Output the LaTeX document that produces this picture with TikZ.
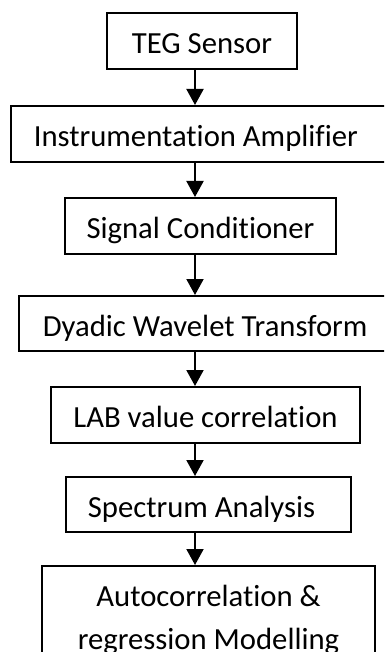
\documentclass[tikz,border=0pt]{standalone}
\usepackage{fontspec}
\setmainfont{Carlito}[Ligatures=CommonOff]
\usetikzlibrary{arrows.meta}

\begin{document}
\begin{tikzpicture}[x=1pt,y=-1pt,every node/.style={font=\fontsize{30.7}{43}\selectfont},
  blk/.style={draw,line width=1.6pt,text height=26pt,text depth=0pt,inner ysep=15pt,anchor=north},
  lft/.style={blk,anchor=north west,align=flush left},
  arr/.style={line width=2pt,-{Triangle[width=17pt,length=16pt]}}]
\useasboundingbox (0,0) rectangle (384,652); \clip (0,0) rectangle (384,652);
\coordinate (spine) at (195,0);
\node[blk,minimum width=190pt] (teg) at (202,12) {TEG Sensor};
\node[lft,inner xsep=23pt,text width=350pt] (amp) at (10,105) {Instrumentation Amplifier};
\node[blk,minimum width=271pt] (sig) at (200.5,197) {Signal Conditioner};
\node[lft,inner xsep=24pt,text width=350pt,inner ysep=14.5pt] (dwt) at (18,295) {Dyadic Wavelet Transform};
\node[blk,minimum width=309pt] (lab) at (205.5,386) {LAB value correlation};
\node[lft,inner xsep=22pt,text width=241pt,inner ysep=14.5pt] (spc) at (65,476) {Spectrum Analysis};
\node[blk,align=center,text height={},text depth={},minimum width=333pt,inner ysep=19pt] (acr) at (208.5,565) {Autocorrelation \&\\regression Modelling};
\draw[arr] (teg.south -| spine) -- (amp.north -| spine); \draw[arr] (amp.south -| spine) -- (sig.north -| spine);
\draw[arr] (sig.south -| spine) -- (dwt.north -| spine); \draw[arr] (dwt.south -| spine) -- (lab.north -| spine);
\draw[arr] (lab.south -| spine) -- (spc.north -| spine); \draw[arr] (spc.south -| spine) -- (acr.north -| spine);
\end{tikzpicture}
\end{document}
